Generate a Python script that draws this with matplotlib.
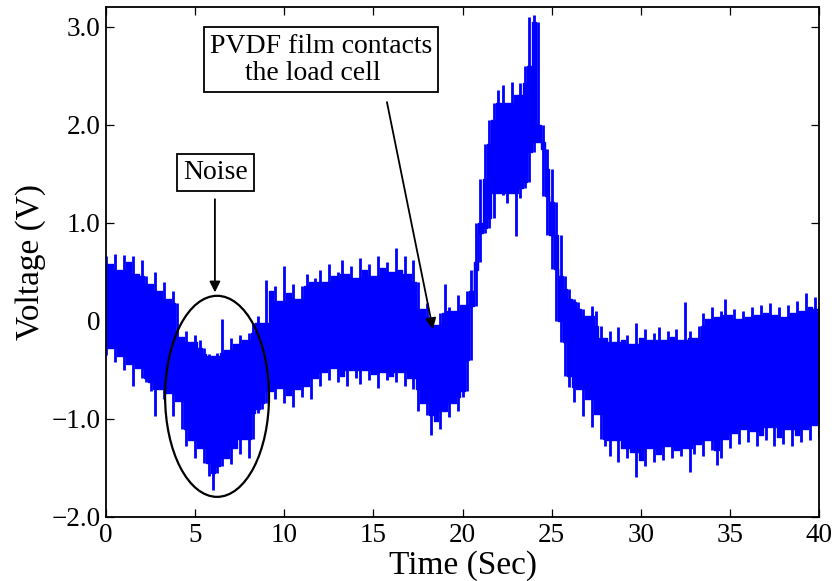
import numpy as np
import matplotlib
matplotlib.use("Agg")
import matplotlib.pyplot as plt
from matplotlib.patches import Ellipse

# Sampling interval of the envelope readings (seconds)
t_step = 0.25

# Upper envelope of the PVDF voltage trace (V), one value per 0.25 s from 0 to 40 s
v_high = [
    0.66, 0.58, 0.68, 0.52, 0.67, 0.60, 0.66, 0.48, 0.62,            # 0 - 2 s
    0.46, 0.38, 0.50, 0.30, 0.40, 0.22, 0.30, 0.18,                  # 2.25 - 4 s
    -0.16, -0.10, -0.22, -0.14, -0.20, -0.28, -0.34, -0.36,          # 4.25 - 6 s
    -0.33, 0.02, -0.30, -0.18, -0.24, -0.14, -0.20, -0.12,           # 6.25 - 8 s
    -0.02, 0.05, -0.02, 0.42, 0.30, 0.36, 0.20, 0.56,                # 8.25 - 10 s
    0.28, 0.38, 0.22, 0.36, 0.48, 0.40, 0.44, 0.52,                  # 10.25 - 12 s
    0.40, 0.58, 0.46, 0.50, 0.62, 0.48, 0.56, 0.44,                  # 12.25 - 14 s
    0.64, 0.52, 0.58, 0.46, 0.66, 0.54, 0.60, 0.50,                  # 14.25 - 16 s
    0.74, 0.52, 0.66, 0.48, 0.62, 0.40, 0.12, 0.18,                  # 16.25 - 18 s
    0.04, -0.04, 0.08, 0.38, 0.14, 0.10, 0.26, 0.16,                 # 18.25 - 20 s
    0.30, 0.52, 1.00, 1.45, 1.80, 2.05, 2.22, 2.35,                  # 20.25 - 22 s
    2.40, 2.22, 2.44, 2.30, 2.42, 2.60, 3.10, 3.12,                  # 22.25 - 24 s
    3.05, 2.00, 1.75, 1.55, 1.21, 0.87, 0.46, 0.32,                  # 24.25 - 26 s
    0.22, 0.19, 0.12, 0.05, 0.15, 0.10, -0.05, -0.18,                # 26.25 - 28 s
    -0.10, -0.22, -0.06, -0.20, -0.14, -0.24, -0.02, -0.18,          # 28.25 - 30 s
    -0.08, -0.20, -0.12, -0.06, -0.20, -0.10, -0.16, -0.08,          # 30.25 - 32 s
    -0.20, 0.19, -0.10, -0.18, -0.05, 0.08, 0.02, 0.14,              # 32.25 - 34 s
    0.04, 0.10, 0.22, 0.06, 0.12, 0.02, 0.10, 0.04,                  # 34.25 - 36 s
    0.14, 0.06, 0.16, 0.08, 0.18, 0.06, 0.14, 0.04,                  # 36.25 - 38 s
    0.16, 0.08, 0.20, 0.10, 0.28, 0.14, 0.24, 0.12,                  # 38.25 - 40 s
]

# Lower envelope of the same trace (V)
v_low = [
    -0.35, -0.28, -0.42, -0.36, -0.50, -0.44, -0.66, -0.48, -0.58,   # 0 - 2 s
    -0.62, -0.72, -0.97, -0.70, -0.80, -0.74, -0.97, -0.82,          # 2.25 - 4 s
    -1.10, -1.28, -1.22, -1.40, -1.30, -1.45, -1.58, -1.72,          # 4.25 - 6 s
    -1.55, -1.48, -1.40, -1.46, -1.30, -1.36, -1.20, -1.40,          # 6.25 - 8 s
    -1.20, -0.94, -0.90, -0.84, -0.72, -0.80, -0.68, -0.84,          # 8.25 - 10 s
    -0.76, -0.88, -0.70, -0.78, -0.66, -0.80, -0.58, -0.66,          # 10.25 - 12 s
    -0.52, -0.60, -0.48, -0.62, -0.56, -0.66, -0.50, -0.58,          # 12.25 - 14 s
    -0.64, -0.50, -0.60, -0.54, -0.68, -0.52, -0.60, -0.56,          # 14.25 - 16 s
    -0.62, -0.52, -0.66, -0.58, -0.70, -0.92, -0.84, -0.96,          # 16.25 - 18 s
    -1.16, -1.02, -1.10, -0.92, -0.98, -0.84, -0.92, -0.78,          # 18.25 - 20 s
    -0.72, -0.40, 0.15, 0.60, 0.90, 0.95, 1.05, 1.30,                # 20.25 - 22 s
    1.28, 1.20, 1.30, 0.86, 1.25, 1.35, 1.42, 1.72,                  # 22.25 - 24 s
    1.82, 1.27, 0.87, 0.53, 0.00, -0.22, -0.56, -0.67,               # 24.25 - 26 s
    -0.83, -0.70, -0.97, -0.80, -1.08, -0.95, -1.20, -1.28,          # 26.25 - 28 s
    -1.38, -1.22, -1.44, -1.30, -1.40, -1.34, -1.59, -1.42,          # 28.25 - 30 s
    -1.48, -1.30, -1.44, -1.36, -1.42, -1.28, -1.40, -1.32,          # 30.25 - 32 s
    -1.38, -1.30, -1.54, -1.36, -1.26, -1.38, -1.22, -1.32,          # 32.25 - 34 s
    -1.47, -1.40, -1.20, -1.30, -1.14, -1.26, -1.10, -1.24,          # 34.25 - 36 s
    -1.12, -1.28, -1.16, -1.22, -1.08, -1.28, -1.18, -1.26,          # 36.25 - 38 s
    -1.10, -1.28, -1.16, -1.24, -1.10, -1.22, -1.06, -1.18,          # 38.25 - 40 s
]

x_ticks = [0, 5, 10, 15, 20, 25, 30, 35, 40]
y_ticks = [-2.0, -1.0, 0.0, 1.0, 2.0, 3.0]
y_tick_labels = ["\u22122.0", "\u22121.0", "0", "1.0", "2.0", "3.0"]

plt.rcParams["font.family"] = ["Liberation Serif", "DejaVu Serif"]

fig = plt.figure(figsize=(8.36, 5.81), dpi=100)
ax = fig.add_axes([0.1268, 0.1102, 0.8529, 0.8778])

t = np.arange(len(v_high)) * t_step
hi = np.asarray(v_high)
lo = np.asarray(v_low)

# Dense core of the trace: the tighter of each reading and its neighbours
hi_pad = np.pad(hi, 1, mode="edge")
lo_pad = np.pad(lo, 1, mode="edge")
core_hi = np.minimum(np.minimum(hi_pad[:-2], hi_pad[1:-1]), hi_pad[2:])
core_lo = np.maximum(np.maximum(lo_pad[:-2], lo_pad[1:-1]), lo_pad[2:])
ax.fill_between(t, core_lo, core_hi, step="mid", color="#0000ff",
                linewidth=1.0, edgecolor="#0000ff", zorder=2)
# Individual noise excursions
ax.vlines(t, lo, hi, color="#0000ff", linewidth=2.0, zorder=2)

ax.set_xlim(0, 40)
ax.set_ylim(-2.0, 3.2)
ax.set_xticks(x_ticks)
ax.set_xticklabels([str(v) for v in x_ticks])
ax.set_yticks(y_ticks)
ax.set_yticklabels(y_tick_labels)
ax.tick_params(direction="in", top=True, right=True, length=5.5, width=0.9,
               labelsize=19.5, colors="black")
ax.tick_params(axis="x", pad=4)
ax.tick_params(axis="y", pad=4)
for sp in ax.spines.values():
    sp.set_linewidth(1.3)
    sp.set_zorder(7)

ax.set_xlabel("Time (Sec)", fontsize=24, labelpad=2)
ax.set_ylabel("Voltage (V)", fontsize=24, labelpad=4)

# Circle around the noisy section
ax.add_patch(Ellipse((6.23, -0.77), 5.83, 2.05, fill=False,
                     edgecolor="black", linewidth=1.6, zorder=5))

box = dict(boxstyle="square,pad=0.22", facecolor="white",
           edgecolor="black", linewidth=1.3)
ax.text(6.14, 1.51, "Noise", fontsize=20, ha="center", va="center",
        bbox=box, zorder=6)
ax.text(12.06, 2.66, "PVDF film contacts\n     the load cell", fontsize=20,
        ha="center", va="center", multialignment="left", linespacing=1.15,
        bbox=box, zorder=6)

arrow = dict(arrowstyle="-|>", color="black", lw=1.3, mutation_scale=16,
             shrinkA=0, shrinkB=0)
ax.annotate("", xy=(6.11, 0.29), xytext=(6.11, 1.24), arrowprops=arrow,
            zorder=6)
ax.annotate("", xy=(18.34, -0.085), xytext=(15.76, 2.23), arrowprops=arrow,
            zorder=6)

fig.savefig("out.png", dpi=100)
